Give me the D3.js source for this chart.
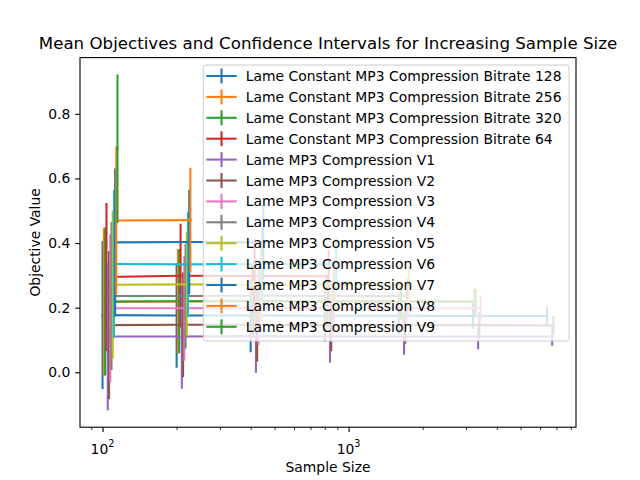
<!DOCTYPE html>
<html>
<head>
<meta charset="utf-8">
<script src="https://cdn.jsdelivr.net/npm/d3@7"></script>
<style>
body { margin: 0; background: #fff; }
text { font-family: "DejaVu Sans", sans-serif; fill: #000; }
</style>
</head>
<body>
<script>
//Width and height
var w = 640;
var h = 480;
var margin = {left: 80, right: 64, top: 57.6, bottom: 52.8};
var pw = w - margin.left - margin.right;
var ph = h - margin.top - margin.bottom;

var seriesNames = [
    "Lame Constant MP3 Compression Bitrate 128",
    "Lame Constant MP3 Compression Bitrate 256",
    "Lame Constant MP3 Compression Bitrate 320",
    "Lame Constant MP3 Compression Bitrate 64",
    "Lame MP3 Compression V1",
    "Lame MP3 Compression V2",
    "Lame MP3 Compression V3",
    "Lame MP3 Compression V4",
    "Lame MP3 Compression V5",
    "Lame MP3 Compression V6",
    "Lame MP3 Compression V7",
    "Lame MP3 Compression V8",
    "Lame MP3 Compression V9"
];

var colors = ["#1f77b4", "#ff7f0e", "#2ca02c", "#d62728", "#9467bd", "#8c564b",
              "#e377c2", "#7f7f7f", "#bcbd22", "#17becf", "#1f77b4", "#ff7f0e", "#2ca02c"];

var sampleSizes = [100, 200, 400, 800, 1600, 3200, 6400];

// mean objective per sample size (series stop when they run out of values)
var meanValues = [
    [0.177, 0.176, 0.176, 0.175, 0.175, 0.174, 0.174],
    [0.218, 0.219, 0.219, 0.218, 0.218, 0.218],
    [0.219, 0.220, 0.221, 0.220, 0.220, 0.219],
    [0.295, 0.299, 0.298, 0.297],
    [0.111, 0.111, 0.112, 0.111, 0.111, 0.111, 0.111],
    [0.146, 0.147, 0.147, 0.146, 0.146, 0.146, 0.145],
    [0.198, 0.198, 0.199, 0.198, 0.198, 0.198],
    [0.236, 0.236, 0.237, 0.236, 0.236],
    [0.271, 0.272, 0.271, 0.271, 0.270],
    [0.335, 0.334, 0.335, 0.334],
    [0.402, 0.403, 0.402],
    [0.470, 0.471],
    [0.692]
];

// half width of the confidence interval
var ciValues = [
    [0.229, 0.162, 0.114, 0.081, 0.057, 0.040, 0.028],
    [0.229, 0.162, 0.115, 0.081, 0.057, 0.040],
    [0.229, 0.161, 0.114, 0.080, 0.057, 0.040],
    [0.229, 0.161, 0.114, 0.081],
    [0.229, 0.162, 0.114, 0.081, 0.057, 0.040, 0.029],
    [0.229, 0.162, 0.114, 0.081, 0.057, 0.041, 0.029],
    [0.229, 0.162, 0.114, 0.081, 0.057, 0.040],
    [0.229, 0.162, 0.114, 0.081, 0.057],
    [0.229, 0.161, 0.114, 0.081, 0.057],
    [0.229, 0.162, 0.114, 0.081],
    [0.229, 0.162, 0.114],
    [0.229, 0.162],
    [0.230]
];

var xJitter = 0.0125;   // each series shifted a little to the right

var xMajorTicks = [100, 1000];
var xMinorTicks = [90, 200, 300, 400, 500, 600, 700, 800, 900,
                   2000, 3000, 4000, 5000, 6000, 7000, 8000];
var yTicks = [0.0, 0.2, 0.4, 0.6, 0.8];

var series = seriesNames.map(function(name, i) {
    return {
        name: name,
        color: colors[i],
        points: meanValues[i].map(function(m, j) {
            return {x: sampleSizes[j] * (1 + i * xJitter), y: m, e: ciValues[i][j]};
        })
    };
});

var allPts = d3.merge(series.map(s => s.points));

// matplotlib style 5% margins (log space for x)
var lx = d3.extent(allPts, d => Math.log10(d.x));
var lpad = (lx[1] - lx[0]) * 0.05;
var yMin = d3.min(allPts, d => d.y - d.e);
var yMax = d3.max(allPts, d => d.y + d.e);
var ypad = (yMax - yMin) * 0.05;

var xScale = d3.scaleLog()
    .domain([Math.pow(10, lx[0] - lpad), Math.pow(10, lx[1] + lpad)])
    .range([0, pw]);

var yScale = d3.scaleLinear()
    .domain([yMin - ypad, yMax + ypad])
    .range([ph, 0]);

//Create SVG element
var svg = d3.select("body")
    .append("svg")
    .attr("width", w)
    .attr("height", h);

var g = svg.append("g")
    .attr("transform", "translate(" + margin.left + "," + margin.top + ")");

var lw = 2.08;

var line = d3.line()
    .x(d => xScale(d.x))
    .y(d => yScale(d.y));

series.forEach(function(s) {
    var sg = g.append("g");
    sg.selectAll("line")
        .data(s.points)
        .enter()
        .append("line")
        .attr("x1", d => xScale(d.x))
        .attr("x2", d => xScale(d.x))
        .attr("y1", d => yScale(d.y - d.e))
        .attr("y2", d => yScale(d.y + d.e))
        .attr("stroke", s.color)
        .attr("stroke-width", lw);
    sg.append("path")
        .datum(s.points)
        .attr("d", line)
        .attr("fill", "none")
        .attr("stroke", s.color)
        .attr("stroke-width", lw)
        .attr("stroke-linecap", "square");
});

// axes
var yAxis = g.append("g")
    .call(d3.axisLeft(yScale).tickValues(yTicks).tickSize(4.86).tickPadding(4.86)
        .tickFormat(d3.format(".1f")));
yAxis.select(".domain").remove();
yAxis.selectAll("line").attr("stroke-width", 1.1);
yAxis.selectAll("text").attr("font-size", "13.9px").attr("font-family", "DejaVu Sans");

var xMinor = g.append("g")
    .attr("transform", "translate(0," + ph + ")")
    .call(d3.axisBottom(xScale).tickValues(xMinorTicks).tickSize(2.78).tickFormat(""));
xMinor.select(".domain").remove();
xMinor.selectAll("line").attr("stroke-width", 0.83);

var xAxis = g.append("g")
    .attr("transform", "translate(0," + ph + ")")
    .call(d3.axisBottom(xScale).tickValues(xMajorTicks).tickSize(4.86).tickFormat(""));
xAxis.select(".domain").remove();
xAxis.selectAll("line").attr("stroke-width", 1.1);

xMajorTicks.forEach(function(v) {
    var t = g.append("text")
        .attr("x", xScale(v))
        .attr("y", ph + 26.5)
        .attr("text-anchor", "middle")
        .attr("font-size", "13.9px");
    t.append("tspan").text("10");
    t.append("tspan")
        .attr("dy", -6.5)
        .attr("font-size", "9.7px")
        .text(Math.round(Math.log10(v)));
});

// spines
g.append("rect")
    .attr("width", pw)
    .attr("height", ph)
    .attr("fill", "none")
    .attr("stroke", "#000")
    .attr("stroke-width", 1.1);

// titles
svg.append("text")
    .attr("x", margin.left + pw / 2)
    .attr("y", 49.3)
    .attr("text-anchor", "middle")
    .attr("font-size", "16.67px")
    .text("Mean Objectives and Confidence Intervals for Increasing Sample Size");

svg.append("text")
    .attr("x", margin.left + pw / 2)
    .attr("y", 472)
    .attr("text-anchor", "middle")
    .attr("font-size", "13.9px")
    .text("Sample Size");

svg.append("text")
    .attr("transform", "translate(40," + (margin.top + ph / 2) + ") rotate(-90)")
    .attr("text-anchor", "middle")
    .attr("font-size", "13.9px")
    .text("Objective Value");

// legend
var fs = 13.9;
var legTop = 65;
var rowGap = 20.9;
var firstRow = 76;
var leg = svg.append("g");
var legBox = leg.append("rect");
var legItems = leg.selectAll("g.item")
    .data(series)
    .enter()
    .append("g")
    .attr("class", "item");

var legTexts = legItems.append("text")
    .attr("y", (d, i) => firstRow + i * rowGap + 5)
    .attr("font-size", fs + "px")
    .text(d => d.name);

var maxW = d3.max(legTexts.nodes(), n => n.getComputedTextLength());
var legRight = margin.left + pw - 6.94;
var legW = 5.56 + 27.8 + 11.1 + maxW + 5.56;
var legLeft = legRight - legW;
var hx0 = legLeft + 5.56 - 2.5;
var hx1 = hx0 + 27.8 + 2.5;

legTexts.attr("x", hx1 + 11.1 - 2);

legBox
    .attr("x", legLeft)
    .attr("y", legTop)
    .attr("width", legW)
    .attr("height", 341 - legTop)
    .attr("rx", 2.8)
    .attr("fill", "#fff")
    .attr("fill-opacity", 0.8)
    .attr("stroke", "#cccccc")
    .attr("stroke-width", 1);

legItems.append("line")
    .attr("x1", hx0)
    .attr("x2", hx1)
    .attr("y1", (d, i) => firstRow + i * rowGap)
    .attr("y2", (d, i) => firstRow + i * rowGap)
    .attr("stroke", d => d.color)
    .attr("stroke-width", lw);

legItems.append("line")
    .attr("x1", (hx0 + hx1) / 2)
    .attr("x2", (hx0 + hx1) / 2)
    .attr("y1", (d, i) => firstRow + i * rowGap - 7.5)
    .attr("y2", (d, i) => firstRow + i * rowGap + 7.5)
    .attr("stroke", d => d.color)
    .attr("stroke-width", lw);
</script>
</body>
</html>
